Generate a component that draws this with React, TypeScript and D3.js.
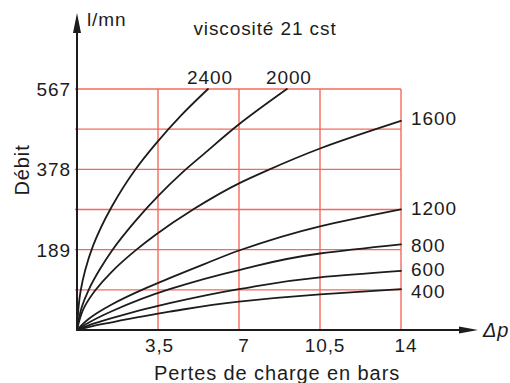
import React from "react";
import * as d3 from "d3";

// ---- data ----
const xTicks = [3.5, 7, 10.5, 14];
const xTickLabels = ["3,5", "7", "10,5", "14"];
const yTicks = [189, 378, 567];
const yTickLabels = ["189", "378", "567"];
const yGrid = [94.5, 189, 283.5, 378, 472.5, 567];

const seriesNames = ["2400", "2000", "1600", "1200", "800", "600", "400"];
const dp2400 = [0, 0.15, 0.35, 0.7, 1.5, 2.5, 3.4, 4.5, 5.66];
const q2400 = [0, 90, 140, 199, 290, 376, 438, 505, 567];
const dp2000 = [0, 0.2, 0.5, 1.0, 1.5, 2.5, 3.5, 4.5, 5.5, 7, 9.07];
const q2000 = [0, 53, 94, 144, 186, 255, 315, 368, 415, 484, 567];
const dp1600 = [0, 0.3, 0.8, 1.5, 2.57, 3.37, 5, 7, 8.2, 10.5, 14];
const q1600 = [0, 52, 94, 137, 189, 223, 283, 345, 375, 427, 492];
const dp1200 = [0, 0.5, 1.5, 3, 4, 5.5, 7, 10.5, 14];
const q1200 = [0, 26, 60, 99, 122, 155, 187, 244, 284];
const dpLow = [0, 0.5, 1.5, 4, 7, 10.5, 14];
const q800 = [0, 17, 44, 96, 141, 180, 201.5];
const q600 = [0, 11, 28, 63, 96, 124, 139];
const q400 = [0, 7, 18, 43, 67, 84, 96];

const seriesDp = [dp2400, dp2000, dp1600, dp1200, dpLow, dpLow, dpLow];
const seriesQ = [q2400, q2000, q1600, q1200, q800, q600, q400];

export default function App() {
  const W = 510, H = 383;
  const x = d3.scaleLinear().domain([0, 14]).range([77, 401]);
  const y = d3.scaleLinear().domain([0, 567]).range([330, 89]);
  const line = d3
    .line<[number, number]>()
    .x((d) => x(d[0]))
    .y((d) => y(d[1]))
    .curve(d3.curveMonotoneY);

  const red = "#f36a5c";
  const ink = "#1c1c1c";
  const font = "'Liberation Sans', Arial, Helvetica, sans-serif";
  const fs = 19;
  const ls = 0.9;

  const x0 = x(0), y0 = y(0);
  const xEnd = x(14), yTop = y(567);
  const rightLabelDy = [0, 0, 4.5, 6, 7.5, 5.5, 8.5];

  return (
    <svg
      width={W}
      height={H}
      viewBox={`0 0 ${W} ${H}`}
      style={{ position: "absolute", left: 0, top: 0, background: "#fff" }}
      fontFamily={font}
      letterSpacing={ls}
    >
      <rect width={W} height={H} fill="#fff" />
      {/* grid */}
      {yGrid.map((v) => (
        <line key={"h" + v} x1={x0 - 2} x2={xEnd} y1={y(v)} y2={y(v)} stroke={red} strokeWidth={1.4} />
      ))}
      {xTicks.map((v) => (
        <line key={"v" + v} x1={x(v)} x2={x(v)} y1={yTop} y2={y0} stroke={red} strokeWidth={1.4} />
      ))}

      {/* curves */}
      {seriesNames.map((name, i) => {
        const pts = seriesDp[i].map((d, j) => [d, seriesQ[i][j]] as [number, number]);
        return (
          <path key={name} d={line(pts) || ""} fill="none" stroke={ink} strokeWidth={1.8} strokeLinecap="round" />
        );
      })}

      {/* axes */}
      <line x1={x0} x2={x0} y1={y0 + 1} y2={30} stroke={ink} strokeWidth={2} />
      <path d={`M${x0},13 L${x0 - 4},33 L${x0 + 4},33 Z`} fill={ink} />
      <line x1={x0 - 1} x2={462} y1={y0} y2={y0} stroke={ink} strokeWidth={2} />
      <path d={`M478,${y0} L459,${y0 - 3.5} L459,${y0 + 3.5} Z`} fill={ink} />

      {/* y tick labels */}
      {yTicks.map((v, i) => (
        <text key={"yt" + v} x={71} y={y(v) + 7} textAnchor="end" fontSize={fs} fill={ink}>
          {yTickLabels[i]}
        </text>
      ))}
      {/* x tick labels */}
      {xTicks.map((v, i) => (
        <text key={"xt" + v} x={x(v) + (i === 0 ? 1.5 : 5)} y={352} textAnchor="middle" fontSize={fs} fill={ink}>
          {xTickLabels[i]}
        </text>
      ))}

      {/* axis titles */}
      <text x={87} y={26} fontSize={fs} fill={ink}>l/mn</text>
      <text x={265} y={35} textAnchor="middle" fontSize={fs} fill={ink}>viscosité 21 cst</text>
      <text transform={`translate(29,170) rotate(-90)`} textAnchor="middle" fontSize={20} fill={ink}>Débit</text>
      <text x={277} y={380} textAnchor="middle" fontSize={20} fill={ink}>Pertes de charge en bars</text>
      <text x={483} y={337} fontSize={20} fontStyle="italic" fill={ink}>Δp</text>

      {/* curve labels */}
      {seriesNames.map((name, i) => {
        const dps = seriesDp[i];
        const qs = seriesQ[i];
        const ex = x(dps[dps.length - 1]);
        const ey = y(qs[qs.length - 1]);
        const atTop = dps[dps.length - 1] < 14;
        return atTop ? (
          <text key={"l" + name} x={ex + 2} y={ey - 5} textAnchor="middle" fontSize={fs} fill={ink}>
            {name}
          </text>
        ) : (
          <text key={"l" + name} x={ex + 10} y={ey + rightLabelDy[i]} fontSize={fs} fill={ink}>
            {name}
          </text>
        );
      })}
    </svg>
  );
}
